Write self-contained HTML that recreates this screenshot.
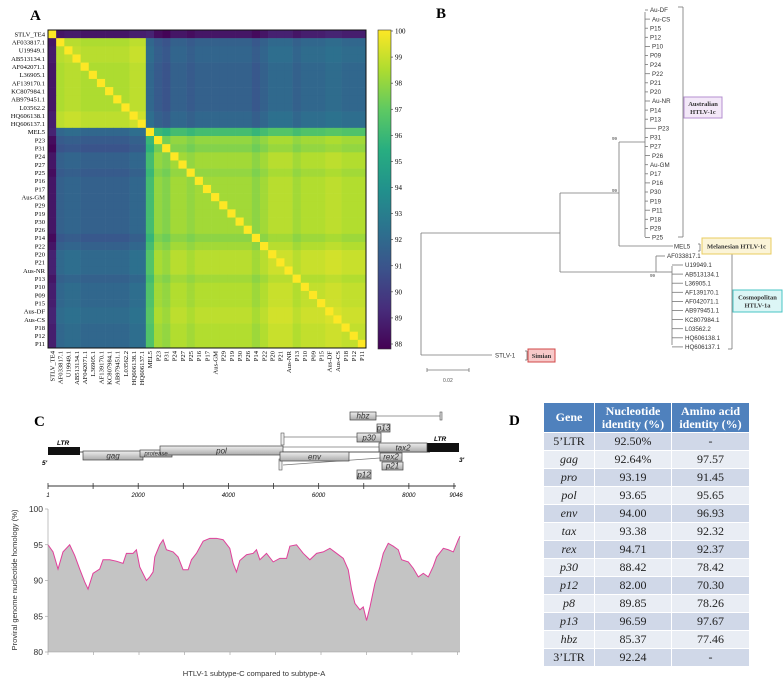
<!DOCTYPE html>
<html><head><meta charset="utf-8">
<style>
body{margin:0;background:#fff;width:784px;height:682px;overflow:hidden;position:relative;font-family:"Liberation Sans",sans-serif}
svg{position:absolute;left:0;top:0}
table{position:absolute;left:543px;top:402px;border-collapse:collapse;font-family:"Liberation Serif",serif;font-size:12px;color:#222}
td,th{border:1px solid #fff;text-align:center;padding:0;height:17px}
th{background:#4f81bd;color:#fff;height:29px;font-size:12px;line-height:13px}
tr.a td{background:#d0d8e8} tr.b td{background:#e9edf4}
</style></head><body>
<svg id="s" width="784" height="682"></svg>
<table>
<tr><th style="width:50px">Gene</th><th style="width:76px">Nucleotide<br>identity (%)</th><th style="width:77px">Amino acid<br>identity (%)</th></tr>
<tr class="a"><td>5’LTR</td><td>92.50%</td><td>-</td></tr>
<tr class="b"><td><i>gag</i></td><td>92.64%</td><td>97.57</td></tr>
<tr class="a"><td><i>pro</i></td><td>93.19</td><td>91.45</td></tr>
<tr class="b"><td><i>pol</i></td><td>93.65</td><td>95.65</td></tr>
<tr class="a"><td><i>env</i></td><td>94.00</td><td>96.93</td></tr>
<tr class="b"><td><i>tax</i></td><td>93.38</td><td>92.32</td></tr>
<tr class="a"><td><i>rex</i></td><td>94.71</td><td>92.37</td></tr>
<tr class="b"><td><i>p30</i></td><td>88.42</td><td>78.42</td></tr>
<tr class="a"><td><i>p12</i></td><td>82.00</td><td>70.30</td></tr>
<tr class="b"><td><i>p8</i></td><td>89.85</td><td>78.26</td></tr>
<tr class="a"><td><i>p13</i></td><td>96.59</td><td>97.67</td></tr>
<tr class="b"><td><i>hbz</i></td><td>85.37</td><td>77.46</td></tr>
<tr class="a"><td>3’LTR</td><td>92.24</td><td>-</td></tr>
</table>
<script>
// ---- heatmap data ----
const seqs=["STLV_TE4","AF033817.1","U19949.1","AB513134.1","AF042071.1","L36905.1","AF139170.1","KC807984.1","AB979451.1","L03562.2","HQ606138.1","HQ606137.1","MEL5","P23","P31","P24","P27","P25","P16","P17","Aus-GM","P29","P19","P30","P26","P14","P22","P20","P21","Aus-NR","P13","P10","P09","P15","Aus-DF","Aus-CS","P18","P12","P11"];
const groups=[0,1,1,1,1,1,1,1,1,1,1,1,2,3,3,3,3,3,3,3,3,3,3,3,3,3,3,3,3,3,3,3,3,3,3,3,3,3,3];
const blockVals=[[100,89,89.5,89],[89,98.5,92,91.7],[89.5,92,100,96.3],[89,91.7,96.3,98.3]];
const offsets=[-0.3,0,0.2,0.2,0,0,0,0,0,0,0.3,0.3,0,-0.3,-0.6,0,0,-0.3,0,0,0,0,0,0,0,-0.4,0,0.4,0.4,0.4,0,0.3,0.3,0.3,0.5,0.5,0.3,0.3,0.3];
const cbTicks=[100,99,98,97,96,95,94,93,92,91,90,89,88];
// ---- homology data ----
const posBp=[1,111,221,330,477,587,697,807,880,990,1136,1209,1356,1502,1649,1722,1868,1942,2015,2162,2235,2308,2345,2455,2528,2601,2748,2857,2967,3077,3150,3260,3407,3553,3700,3846,3992,4066,4139,4212,4359,4505,4578,4652,4798,4945,5091,5238,5311,5457,5604,5750,5897,6043,6190,6336,6483,6593,6666,6739,6849,6922,6995,7069,7178,7288,7362,7471,7581,7691,7764,7911,8021,8131,8240,8350,8460,8533,8680,8790,8900,9009,9046];
const homology=[95,94,91.6,94,95,93.5,91.6,89.8,88.8,91,91.6,92.9,92.9,92.7,92.4,93.8,93.8,94.3,91.9,90,90.5,91.2,93.3,95,95.7,94.3,94,93.3,91.5,91.5,92.9,93.8,95.5,95.9,95.9,95.7,94.5,92.4,91.2,92.8,93.6,93.8,94.3,92.9,93.8,92.6,93.1,93.1,94.8,95,93.8,92.9,93.8,94,94.5,93.8,93.1,91.5,88.7,86.8,85.9,86.3,84.4,86.3,89.6,91.9,93.8,95.2,94.8,94.3,92.9,92.6,91.7,90.5,91,90.5,92,93.3,94.5,94.3,94,95.7,96.2];
const yTicks=[80,85,90,95,100];
const bpTicks=[1,2000,4000,6000,8000,9046];

const NS="http://www.w3.org/2000/svg",S=document.getElementById('s');
function el(t,a,p){const e=document.createElementNS(NS,t);for(const k in a)e.setAttribute(k,a[k]);(p||S).appendChild(e);return e;}
function tx(x,y,s,a){const e=el('text',Object.assign({x:x,y:y},a||{}));e.textContent=s;return e;}
const vir=["#440154","#472d7b","#3b528b","#2c728e","#21918c","#28ae80","#5ec962","#addc30","#fde725"];
function hx(c){return [1,3,5].map(i=>parseInt(c.substr(i,2),16));}
function cmap(v){let t=Math.max(0,Math.min(1,(v-88)/12))*8;let i=Math.min(7,Math.floor(t)),f=t-i;const a=hx(vir[i]),b=hx(vir[i+1]);return `rgb(${a.map((c,k)=>Math.round(c+(b[k]-c)*f)).join(',')})`;}

// Panel A
const lab=tx(30,20,"A",{"font-family":"Liberation Serif,serif","font-weight":"bold","font-size":"15"});

const hx0=48,hy0=30,HW=318,n=seqs.length,cs=HW/n;
const hm=el('g',{});
for(let i=0;i<n;i++)for(let j=0;j<n;j++){
 const v=i===j?100:blockVals[groups[i]][groups[j]]+offsets[i]+offsets[j];
 const r=el('rect',{x:hx0+j*cs,y:hy0+i*cs,width:cs+0.3,height:cs+0.3,fill:cmap(v)},hm);
 
 
}
el('rect',{x:hx0,y:hy0,width:HW,height:HW,fill:'none',stroke:'#111','stroke-width':1});
for(let i=0;i<n;i++){
 const t=tx(hx0-3,hy0+i*cs+cs/2+2.3,seqs[i],{"text-anchor":"end","font-family":"Liberation Serif,serif","font-size":"6.6"});
 
 const cx=hx0+j0(i);
 const c=tx(0,0,seqs[i],{"text-anchor":"end","font-family":"Liberation Serif,serif","font-size":"6.6",transform:`translate(${cx+2.3},${hy0+HW+3}) rotate(-90)`});
 
}
function j0(i){return i*cs+cs/2;}
// colorbar
const cbx=378,cbw=13,cbTop=30,cbBot=349;
const grad=el('linearGradient',{id:'vg',x1:0,y1:1,x2:0,y2:0},el('defs',{}));
vir.forEach((c,i)=>el('stop',{offset:i/8,'stop-color':c},grad));
const cb=el('rect',{x:cbx,y:cbTop,width:cbw,height:cbBot-cbTop,fill:'url(#vg)',stroke:'#333','stroke-width':0.6});

cbTicks.forEach(v=>{const y=cbTop+(100-v)/12*(cbBot-cbTop-6)+1;el('line',{x1:cbx+cbw,x2:cbx+cbw+2,y1:y,y2:y,stroke:'#333','stroke-width':0.6});
 const t=tx(cbx+cbw+4,y+2.5,String(v),{"font-family":"Liberation Serif,serif","font-size":"7"});});

// Panel B tree
const lb=tx(436,18,"B",{"font-family":"Liberation Serif,serif","font-weight":"bold","font-size":"15"});

const tree=el('g',{stroke:'#777','stroke-width':0.8,fill:'none'});
function L(x1,y1,x2,y2){el('line',{x1,y1,x2,y2},tree);}
L(421,233,421,355);L(421,233,560,233);L(421,355,492,355);
L(560,193,560,272);L(560,193,619,193);L(560,272,656,272);
L(619,142,619,246);L(619,142,645,142);L(619,246,673,246);
L(645,12,645,237);L(656,256,656,272);L(656,256,665,256);L(656,272,672,272);L(672,266,672,345);
const aus=["Au-DF","Au-CS","P15","P12","P10","P09","P24","P22","P21","P20","Au-NR","P14","P13","P23","P31","P27","P26","Au-GM","P17","P16","P30","P19","P11","P18","P29","P25"];
const tf={"font-family":"Liberation Sans,sans-serif","font-size":"6.2",fill:'#333'};
aus.forEach((s,i)=>{const y=10+i*9.1;const x=(s==="P23")?658:(i%3===1?652:650);L(645,y,x-2,y);const t=tx(x,y+2.2,s,tf);});
const cos=["U19949.1","AB513134.1","L36905.1","AF139170.1","AF042071.1","AB979451.1","KC807984.1","L03562.2","HQ606138.1","HQ606137.1"];
cos.forEach((s,i)=>{const y=265+i*9.1;L(672,y,683,y);const t=tx(685,y+2.2,s,tf);});
[["AF033817.1",667,258],["MEL5",674,248.5],["STLV-1",495,357.5]].forEach(a=>{const t=tx(a[1],a[2],a[0],tf);});
L(427,370,469,370);L(427,368,427,372);L(469,368,469,372);tx(443,382,"0.02",{"font-size":"5",fill:'#555'});
[["99",612,140],["99",612,192],["99",650,277]].forEach(a=>tx(a[1],a[2],a[0],{"font-size":"4.5",fill:'#444'}));
// brackets & boxes
L(678,7,683,7);L(683,7,683,237);L(678,237,683,237);
L(728,252,732,252);L(732,252,732,349);L(728,349,732,349);
L(525,351,527,351);L(527,351,527,360);L(525,360,527,360);
L(698,244,700,244);L(700,244,700,251);L(698,251,700,251);
function box(x,y,w,h,bg,bd,lines,name){const g=el('g',{});
 el('rect',{x,y,width:w,height:h,fill:bg,stroke:bd,'stroke-width':1},g);
 lines.forEach((s,i)=>{const t=el('text',{x:x+w/2,y:y+h/2+2.5+(i-(lines.length-1)/2)*8,'text-anchor':'middle','font-family':'Liberation Serif,serif','font-size':'6.5','font-weight':'bold',fill:'#333'},g);t.textContent=s;});}
box(684,97,38,21,'#f3e8f8','#b48fd0',["Australian","HTLV-1c"],'australian-clade-box');
box(702,238,69,16,'#fbf4d8','#e8cc60',["Melanesian HTLV-1c"],'melanesian-clade-box');
box(733,290,49,22,'#dcf6f6','#49c4c4',["Cosmopolitan","HTLV-1a"],'cosmopolitan-clade-box');
box(528,349,27,13,'#f7c9c9','#d04848',["Simian"],'simian-box');

// Panel C genome map
const lc=tx(34,426,"C",{"font-family":"Liberation Serif,serif","font-weight":"bold","font-size":"15"});

const gm=el('g',{});
el('linearGradient',{id:'gg',x1:0,y1:0,x2:0,y2:1},el('defs',{})).innerHTML='<stop offset="0" stop-color="#eee"/><stop offset="1" stop-color="#aaa"/>';
el('line',{x1:80,y1:452,x2:430,y2:452,stroke:'#555','stroke-width':1},gm);
el('line',{x1:283,y1:447,x2:380,y2:447,stroke:'#777','stroke-width':0.7},gm);
el('line',{x1:283,y1:437,x2:357,y2:437,stroke:'#777','stroke-width':0.7},gm);
el('line',{x1:283,y1:465,x2:380,y2:458,stroke:'#777','stroke-width':0.7},gm);
el('line',{x1:376,y1:416,x2:440,y2:416,stroke:'#777','stroke-width':0.7},gm);
el('rect',{x:440,y:412,width:2,height:8,fill:'#ddd',stroke:'#555','stroke-width':0.6},gm);
[[281,433,3,12],[279,459,3,11]].forEach(b=>el('rect',{x:b[0],y:b[1],width:b[2],height:b[3],fill:'#eee',stroke:'#555','stroke-width':0.6},gm));
el('rect',{x:48,y:447,width:32,height:8,fill:'#111'},gm);
el('rect',{x:426,y:443,width:33,height:9,fill:'#111'},gm);
const genes=[["gag",83,451,60,9],["protease",140,450,32,7],["pol",160,446,123,9],["env",280,452,69,9],["tax2",379,443,48,9],["rex2",380,453,22,8],["p21",382,462,21,8],["p30",357,433,24,9],["p13",377,424,13,8],["hbz",350,412,26,8],["p12",357,470,14,9]];
genes.forEach(g=>{el('rect',{x:g[1],y:g[2],width:g[3],height:g[4],fill:'url(#gg)',stroke:'#444','stroke-width':0.7},gm);
 const t=tx(g[1]+g[3]/2,g[2]+g[4]-1.5,g[0],{"text-anchor":"middle","font-style":"italic","font-size":g[0]==="protease"?"6":"8",fill:'#333'});});
tx(57,445,"LTR",{"font-size":"6.5","font-weight":"bold","font-style":"italic"});tx(434,441,"LTR",{"font-size":"6.5","font-weight":"bold","font-style":"italic"});
tx(42,465,"5'",{"font-size":"6.5","font-weight":"bold","font-style":"italic"});tx(459,462,"3'",{"font-size":"6.5","font-weight":"bold","font-style":"italic"});
// ruler
const bx=v=>48+(v-1)/9045*408;
el('line',{x1:48,y1:486,x2:456,y2:486,stroke:'#333','stroke-width':1});
for(let k=0;k<=9;k++){const x=48+k*1000/9045*408;el('line',{x1:x,y1:483,x2:x,y2:489,stroke:'#333','stroke-width':0.8});}
bpTicks.forEach(v=>{const t=tx(bx(v),497,String(v),{"text-anchor":"middle","font-style":"italic","font-size":"6"});});
// homology chart
const X=v=>48+(v-1)/9045*412, Y=v=>652-(v-80)/20*143;
let d=`M${X(posBp[0])},${Y(80)}`;posBp.forEach((p,i)=>d+=`L${X(p)},${Y(homology[i])}`);d+=`L${X(posBp[posBp.length-1])},${Y(80)}Z`;
const area=el('path',{d,fill:'#c4c4c4'});
const ln=el('polyline',{points:posBp.map((p,i)=>X(p)+','+Y(homology[i])).join(' '),fill:'none',stroke:'#e0409a','stroke-width':1});

el('line',{x1:48,y1:509,x2:48,y2:652,stroke:'#999','stroke-width':0.6});
el('line',{x1:48,y1:652,x2:460,y2:652,stroke:'#999','stroke-width':0.6});
yTicks.forEach(v=>{el('line',{x1:45,x2:48,y1:Y(v),y2:Y(v),stroke:'#999','stroke-width':0.6});
 const t=tx(43,Y(v)+3,String(v),{"text-anchor":"end","font-size":"8.5",fill:'#333'});});
for(let k=0;k<=9;k++){const x=48+k*45.5;el('line',{x1:x,x2:x,y1:652,y2:655,stroke:'#999','stroke-width':0.6});}
const yt=tx(0,0,"Proviral genome nucleotide homology (%)",{"text-anchor":"middle","font-size":"7.6",fill:'#333',transform:'translate(17,580) rotate(-90)'});

const xt=tx(254,676,"HTLV-1 subtype-C compared to subtype-A",{"text-anchor":"middle","font-size":"7.6",fill:'#333'});

// Panel D label
const ld=tx(509,425,"D",{"font-family":"Liberation Serif,serif","font-weight":"bold","font-size":"15"});

</script>
</body></html>
